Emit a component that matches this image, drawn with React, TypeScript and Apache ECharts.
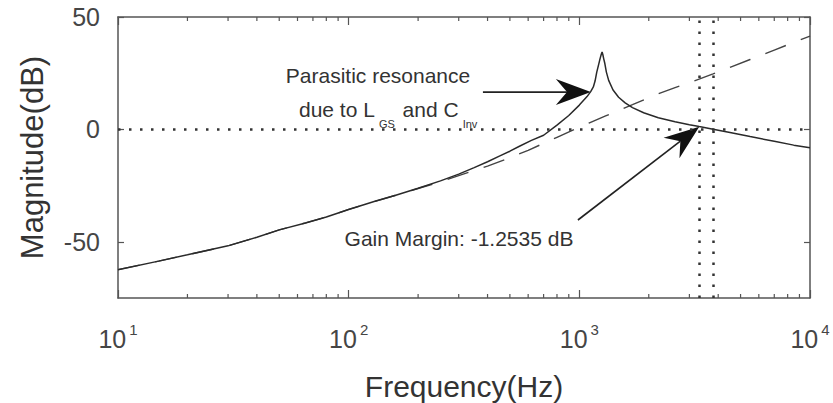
import React, { useEffect, useRef } from 'react';
import * as echarts from 'echarts';

// ---- data ----
const solidFreq = [10, 15, 20, 30, 40, 50, 65, 80, 100, 130, 160, 200, 250, 300, 350, 400, 450, 500, 550, 620, 700, 800, 900, 1000, 1080, 1120, 1150, 1170, 1190, 1210, 1230, 1245, 1255, 1265, 1275, 1290, 1310, 1340, 1400, 1480, 1580, 1700, 1900, 2200, 2600, 3000, 3310, 3800, 4500, 5500, 7000, 8500, 10000];
const solidDb = [-62.4, -58.6, -55.8, -51.8, -48.0, -44.7, -41.6, -39.0, -35.6, -32.0, -29.3, -26.2, -22.9, -19.9, -17.0, -14.4, -11.9, -9.7, -7.5, -4.9, -2.6, 1.9, 6.2, 10.8, 14.6, 16.8, 18.9, 21.5, 25.5, 28.5, 31.5, 33.4, 34.4, 33.2, 31.5, 29.3, 25.5, 21.8, 17.5, 14.3, 11.8, 9.7, 7.4, 5.2, 3.4, 2.1, 1.25, 0.1, -1.4, -3.2, -5.3, -7.0, -8.2];

const dashFreq = [10, 15, 20, 30, 40, 50, 65, 80, 100, 130, 160, 200, 250, 300, 350, 400, 500, 600, 700, 800, 950, 1100, 1300, 1500, 1700, 2118, 2600, 3000, 3800, 4500, 5500, 7000, 8954, 10000];
const dashDb = [-62.4, -58.6, -55.8, -51.8, -48.0, -44.7, -41.6, -39.0, -35.6, -32.0, -29.3, -26.3, -23.3, -20.6, -18.3, -16.3, -12.6, -9.3, -6.2, -3.5, 0, 2.8, 6.0, 8.7, 11.0, 15.2, 18.6, 20.8, 24.7, 27.6, 31.1, 35.3, 39.6, 41.5];

const yTickValues = [-50, 0, 50];
const minorTickFreqs = [20, 30, 40, 50, 60, 70, 80, 90, 200, 300, 400, 500, 600, 700, 800, 900, 2000, 3000, 4000, 5000, 6000, 7000, 8000, 9000];
const markerFreqs = [3310, 3800];
const zeroLevel = 0;
const xMin = 10;
const xMax = 10000;
const yMin = -75;
const yMax = 50;

// annotation anchors in data units [Hz, dB]
const resonanceArrow = [[382, 16.6], [1122, 16.6]];
const marginArrow = [[986, -40.3], [3310, 1.2]];
const resonanceLine1 = 'Parasitic resonance';
const resonanceLine2 = 'due to L{sub|GS} and C{sub|Inv}';
const marginText = 'Gain Margin: -1.2535 dB';

const FONT = '"Liberation Sans", Arial, Helvetica, sans-serif';
const AXIS_COLOR = '#555';
const LABEL_COLOR = '#454545';
const TEXT_COLOR = '#333';

export default function App() {
  const ref = useRef<HTMLDivElement>(null);

  useEffect(() => {
    if (!ref.current) return;
    const chart = echarts.init(ref.current, undefined, { renderer: 'svg' });

    const axisLine = { show: true, onZero: false, lineStyle: { color: AXIS_COLOR, width: 1.5 } };
    const tickStyle = { color: AXIS_COLOR, width: 1.2 };
    const xBase: any = {
      type: 'log',
      logBase: 10,
      min: xMin,
      max: xMax,
      splitLine: { show: false },
      minorTick: { show: false },
      minorSplitLine: { show: false },
      axisLine,
      axisTick: { show: true, inside: true, length: 8, lineStyle: tickStyle },
    };
    const yBase: any = {
      type: 'value',
      min: yMin,
      max: yMax,
      splitLine: { show: false },
      axisLine,
      axisTick: { show: true, inside: true, length: 6, customValues: yTickValues, lineStyle: tickStyle },
    };

    const option: any = {
      animation: false,
      backgroundColor: '#ffffff',
      grid: { left: 118, right: 23, top: 17, bottom: 105, outerBoundsMode: 'none', containLabel: false },
      xAxis: [
        {
          ...xBase,
          position: 'bottom',
          axisLabel: {
            show: true,
            margin: 24,
            color: LABEL_COLOR,
            fontSize: 25,
            fontFamily: FONT,
            showMinLabel: true,
            showMaxLabel: true,
            formatter: (v: number) => `{base|10}{sup|${Math.round(Math.log10(v))}}`,
            rich: {
              base: { fontSize: 25, fontFamily: FONT, color: LABEL_COLOR, verticalAlign: 'middle' },
              sup: { fontSize: 15, fontFamily: FONT, color: LABEL_COLOR, verticalAlign: 'middle', padding: [0, 0, 19, 3] },
            },
          },
          name: 'Frequency(Hz)',
          nameLocation: 'middle',
          nameGap: 73,
          nameMoveOverlap: false,
          nameTextStyle: { fontSize: 30, color: TEXT_COLOR, fontFamily: FONT },
        },
        { ...xBase, position: 'top', axisLabel: { show: false } },
      ],
      yAxis: [
        {
          ...yBase,
          position: 'left',
          axisLabel: {
            show: true,
            customValues: yTickValues,
            margin: 18,
            color: LABEL_COLOR,
            fontSize: 25,
            fontFamily: FONT,
          },
          name: 'Magnitude(dB)',
          nameLocation: 'middle',
          nameRotate: 90,
          nameGap: 70,
          nameMoveOverlap: false,
          nameTextStyle: { fontSize: 31, color: TEXT_COLOR, fontFamily: FONT },
        },
        { ...yBase, position: 'right', axisLabel: { show: false } },
      ],
      series: [
        {
          type: 'line',
          name: 'Ideal',
          xAxisIndex: 0,
          yAxisIndex: 0,
          data: dashFreq.map((f, i) => [f, dashDb[i]]),
          symbol: 'none',
          silent: true,
          z: 2,
          lineStyle: { color: '#444', width: 1.4, type: [22, 16] },
        },
        {
          type: 'line',
          name: 'Magnitude',
          xAxisIndex: 0,
          yAxisIndex: 0,
          data: solidFreq.map((f, i) => [f, solidDb[i]]),
          symbol: 'none',
          silent: true,
          z: 3,
          lineStyle: { color: '#2a2a2a', width: 1.5 },
          markLine: {
            silent: true,
            symbol: ['none', 'none'],
            label: { show: false },
            lineStyle: { color: '#333', width: 2.5, type: [2.5, 8.5] },
            emphasis: { disabled: true },
            data: [{ yAxis: zeroLevel }, ...markerFreqs.map((f) => ({ xAxis: f }))],
          },
        },
        {
          type: 'custom',
          name: 'minorTicks',
          xAxisIndex: 0,
          yAxisIndex: 0,
          silent: true,
          clip: false,
          z: 5,
          data: minorTickFreqs.map((f) => [f, 0]),
          encode: { x: 0, y: 1 },
          renderItem: (params: any, api: any) => {
            const x = api.coord([api.value(0), 0])[0];
            const cs = params.coordSys;
            const top = cs.y;
            const bottom = cs.y + cs.height;
            const st = { stroke: AXIS_COLOR, lineWidth: 1.2 };
            return {
              type: 'group',
              children: [
                { type: 'line', shape: { x1: x, y1: bottom, x2: x, y2: bottom - 4 }, style: st },
                { type: 'line', shape: { x1: x, y1: top, x2: x, y2: top + 4 }, style: st },
              ],
            };
          },
        },
      ],
    };

    chart.setOption(option);

    const px = (p: number[]) => chart.convertToPixel({ xAxisIndex: 0, yAxisIndex: 0 }, p) as number[];
    const arrow = (pts: number[][]) => {
      const a = px(pts[0]);
      const b = px(pts[1]);
      const dx = b[0] - a[0];
      const dy = b[1] - a[1];
      const len = Math.hypot(dx, dy);
      const ux = dx / len;
      const uy = dy / len;
      const nx = -uy;
      const ny = ux;
      const L = 35;
      const W = 13;
      const N = 0.68 * L;
      const notch = [b[0] - ux * N, b[1] - uy * N];
      return [
        {
          type: 'line',
          silent: true,
          shape: { x1: a[0], y1: a[1], x2: notch[0], y2: notch[1] },
          style: { stroke: '#222', lineWidth: 1.6 },
        },
        {
          type: 'polygon',
          silent: true,
          shape: {
            points: [
              [b[0], b[1]],
              [b[0] - ux * L + nx * W, b[1] - uy * L + ny * W],
              notch,
              [b[0] - ux * L - nx * W, b[1] - uy * L - ny * W],
            ],
          },
          style: { fill: '#111' },
        },
      ];
    };

    const textBase = { fontSize: 21, fontFamily: FONT, fill: TEXT_COLOR };
    chart.setOption({
      graphic: [
        ...arrow(resonanceArrow),
        ...arrow(marginArrow),
        {
          type: 'text',
          silent: true,
          x: 378,
          y: 75,
          style: { ...textBase, text: resonanceLine1, align: 'center', verticalAlign: 'middle', textAlign: 'center', textVerticalAlign: 'middle' },
        },
        {
          type: 'text',
          silent: true,
          x: 299,
          y: 109,
          style: {
            ...textBase,
            text: resonanceLine2,
            align: 'left',
            verticalAlign: 'middle',
            textAlign: 'left',
            textVerticalAlign: 'middle',
            rich: {
              sub: { fontSize: 11, fontFamily: FONT, fill: TEXT_COLOR, padding: [29, 2, 0, 4] },
            },
          },
        },
        {
          type: 'text',
          silent: true,
          x: 459,
          y: 238,
          style: { ...textBase, text: marginText, align: 'center', verticalAlign: 'middle', textAlign: 'center', textVerticalAlign: 'middle' },
        },
      ],
    });

    return () => {
      chart.dispose();
    };
  }, []);

  return (
    <div
      ref={ref}
      style={{ position: 'fixed', left: 0, top: 0, width: 833, height: 403, background: '#fff' }}
    />
  );
}
